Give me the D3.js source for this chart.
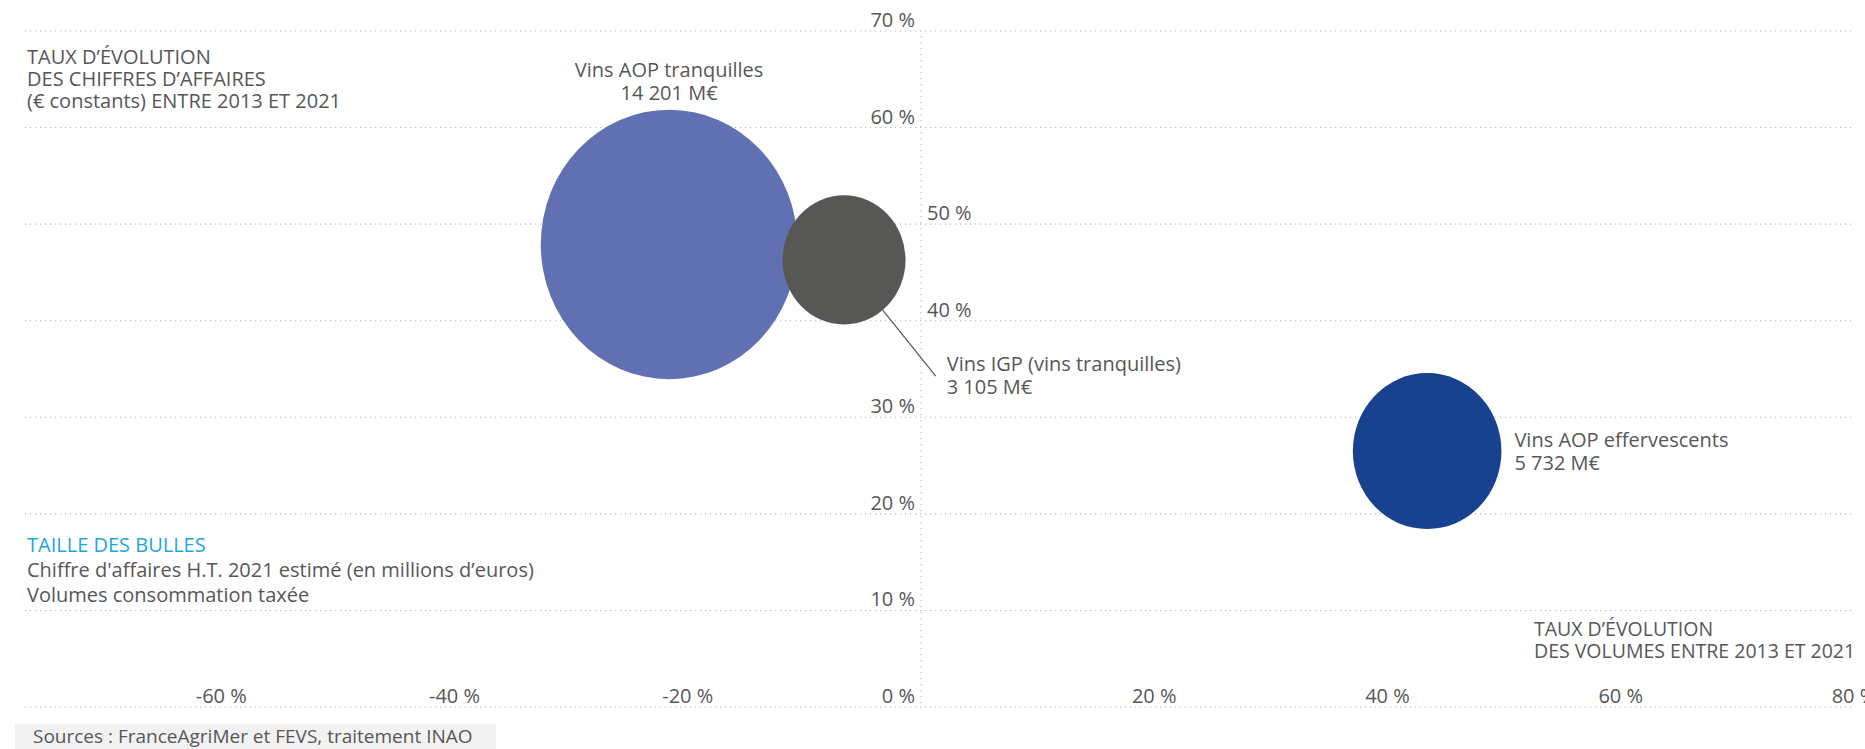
<!DOCTYPE html>
<html>
<head>
<meta charset="utf-8">
<script src="https://cdn.jsdelivr.net/npm/d3@7"></script>
<style>
  html, body { margin: 0; padding: 0; background: #ffffff; overflow: hidden; }
  svg { display: block; font-family: "Open Sans", "Noto Sans", sans-serif; }
</style>
</head>
<body>
<svg id="chart" width="1865" height="749"></svg>
<script>
// ---- data ----
const categories = ["Vins AOP tranquilles", "Vins IGP (vins tranquilles)", "Vins AOP effervescents"];
const volumeGrowth = [-21.6, -6.6, 43.4];      // x : taux d'évolution des volumes 2013-2021 (%)
const revenueGrowth = [47.9, 46.3, 26.5];      // y : taux d'évolution des CA 2013-2021 (%)
const revenue2021 = [14201, 3105, 5732];       // taille : CA H.T. 2021 (M€)
const revenueLabels = ["14 201 M€", "3 105 M€", "5 732 M€"];
const xTicks = [-60, -40, -20, 0, 20, 40, 60, 80];
const yTicks = [0, 10, 20, 30, 40, 50, 60, 70];
const yTicksRightSide = [40, 50];
const leftTitle = ["TAUX D’ÉVOLUTION", "DES CHIFFRES D’AFFAIRES", "(€ constants) ENTRE 2013 ET 2021"];
const bottomTitle = ["TAUX D’ÉVOLUTION", "DES VOLUMES ENTRE 2013 ET 2021"];
const sizeTitle = "TAILLE DES BULLES";
const sizeNotes = ["Chiffre d'affaires H.T. 2021 estimé (en millions d’euros)", "Volumes consommation taxée"];
const sourceText = "Sources : FranceAgriMer et FEVS, traitement INAO";

// ---- styles ----
const bubbleColors = ["#6170b3", "#575756", "#18418f"];
const textColor = "#575757";
const gridColor = "#b8b8b8";
const accent = "#1ea6df";
const drawOrder = [0, 2, 1];

const svg = d3.select("#chart");
const fmt = v => v + " %";

const x = d3.scaleLinear().domain([-80, 80]).range([-12, 1854]);
const y = d3.scaleLinear().domain([0, 70]).range([707, 31]);
const r = d3.scaleLinear().domain([3105, 5732, 14201]).range([61.5, 74.3, 128.3]);
const aspect = 1.05;

const gridLeft = 25, gridRight = 1851;

// multi-line text helper: one <text>, one <tspan> per line
function block(parent, lines, px, py, lineH, size, fill, anchor) {
  const t = parent.append("text")
    .attr("x", px).attr("y", py)
    .attr("font-size", size).attr("fill", fill)
    .attr("text-anchor", anchor || "start");
  t.selectAll("tspan").data(lines).join("tspan")
    .attr("x", px).attr("dy", (d, i) => i === 0 ? 0 : lineH)
    .text(d => d);
  return t;
}

// horizontal dotted grid
svg.append("g").selectAll("line").data(yTicks).join("line")
  .attr("x1", gridLeft).attr("x2", gridRight)
  .attr("y1", d => y(d)).attr("y2", d => y(d))
  .attr("stroke", gridColor).attr("stroke-width", 1.1)
  .attr("stroke-dasharray", "1.2,3.8");

// vertical dotted axis at 0
svg.append("line")
  .attr("x1", x(0)).attr("x2", x(0))
  .attr("y1", y(70) + 5).attr("y2", y(0))
  .attr("stroke", gridColor).attr("stroke-width", 1.1)
  .attr("stroke-dasharray", "1.2,4.8");

// y tick labels
svg.append("g").selectAll("text").data(yTicks).join("text")
  .attr("x", d => yTicksRightSide.includes(d) ? x(0) + 6 : x(0) - 6)
  .attr("y", d => y(d) - 4)
  .attr("text-anchor", d => yTicksRightSide.includes(d) ? "start" : "end")
  .attr("font-size", 20).attr("fill", textColor)
  .text(fmt);

// x tick labels
svg.append("g").selectAll("text").data(xTicks.filter(d => d !== 0)).join("text")
  .attr("x", d => x(d))
  .attr("y", y(0) - 4)
  .attr("text-anchor", "middle")
  .attr("font-size", 20).attr("fill", textColor)
  .text(fmt);

// bubbles
const rows = categories.map((c, i) => ({
  name: c, vx: volumeGrowth[i], vy: revenueGrowth[i], size: revenue2021[i],
  label: revenueLabels[i], color: bubbleColors[i], i
}));
const ordered = drawOrder.map(i => rows[i]);
svg.append("g").selectAll("ellipse").data(ordered).join("ellipse")
  .attr("cx", d => x(d.vx)).attr("cy", d => y(d.vy))
  .attr("rx", d => r(d.size)).attr("ry", d => r(d.size) * aspect)
  .attr("fill", d => d.color);

// labels
const lab = svg.append("g");

// AOP tranquilles: centred above
{
  const d = rows[0];
  const cx = x(d.vx), top = y(d.vy) - r(d.size) * aspect;
  block(lab, [d.name, d.label], cx, top - 33, 23, 20, textColor, "middle");
}
// IGP: leader line
{
  const d = rows[1];
  const cx = x(d.vx), cy = y(d.vy), rx = r(d.size), ry = rx * aspect;
  const ang = 51 * Math.PI / 180;
  const sx = cx + rx * Math.cos(ang), sy = cy + ry * Math.sin(ang);
  const ex = sx + 53, ey = sy + 66;
  svg.append("line").attr("x1", sx).attr("y1", sy).attr("x2", ex).attr("y2", ey)
    .attr("stroke", "#575757").attr("stroke-width", 1.2);
  block(lab, [d.name, d.label], ex + 11, ey - 5, 23, 20, textColor);
}
// AOP effervescents: right side
{
  const d = rows[2];
  const lx = x(d.vx) + r(d.size) + 13, cy = y(d.vy);
  block(lab, [d.name, d.label], lx, cy - 4.5, 23.5, 20, textColor);
}

// left title
block(svg, leftTitle, 27, 64, 22, 20, textColor);

// bottom-right title
block(svg, bottomTitle, 1534, 636, 21.6, 19.5, textColor);

// size legend
svg.append("text").attr("x", 27).attr("y", 551.7)
  .attr("font-size", 20).attr("fill", accent).text(sizeTitle);
block(svg, sizeNotes, 27, 576.7, 25, 20, textColor);

// sources
svg.append("rect").attr("x", 15).attr("y", 724).attr("width", 481).attr("height", 25)
  .attr("fill", "#f2f2f2");
svg.append("text").attr("x", 33).attr("y", 742.5)
  .attr("font-size", 19).attr("fill", textColor).text(sourceText);
</script>
</body>
</html>
